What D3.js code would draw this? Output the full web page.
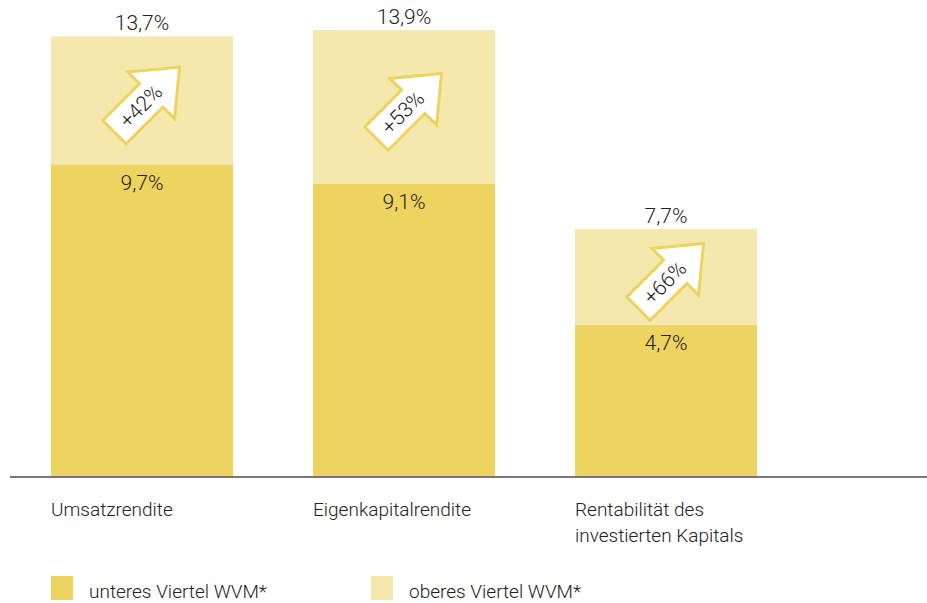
<!DOCTYPE html>
<html>
<head>
<meta charset="utf-8">
<script src="https://cdn.jsdelivr.net/npm/d3@7"></script>
<style>
    body { margin: 0; background: #ffffff; }
    text { font-family: Roboto, "Noto Sans", sans-serif; font-weight: 300; fill: #222222; }
</style>
</head>
<body>
<div id="chart"></div>
<script>
// data
const categories = [["Umsatzrendite"], ["Eigenkapitalrendite"], ["Rentabilität des", "investierten Kapitals"]];
const lowerQuartile = [9.7, 9.1, 4.7];
const upperQuartile = [13.7, 13.9, 7.7];
const increaseLabels = ["+42%", "+53%", "+66%"];
const seriesNames = ["unteres Viertel WVM*", "oberes Viertel WVM*"];

// set the dimensions of the graph
const width = 927,
    height = 603,
    baseline = 476;

const colorLower = "#edd35f",
    colorUpper = "#f5e8ad";

const svg = d3.select("#chart")
    .append("svg")
    .attr("width", width)
    .attr("height", height);

const fmt = v => d3.format(".1f")(v).replace(".", ",") + "%";

// scales
const x = d3.scaleBand()
    .domain(d3.range(categories.length))
    .range([51, 757])
    .paddingInner(80 / 262)
    .paddingOuter(0);

const y = d3.scaleLinear()
    .domain([0, d3.max(upperQuartile)])
    .range([baseline, 30]);

// upper quartile bars (behind)
svg.selectAll("rect.upper")
    .data(upperQuartile)
    .join("rect")
    .attr("class", "upper")
    .attr("x", (d, i) => x(i))
    .attr("y", d => y(d))
    .attr("width", x.bandwidth())
    .attr("height", d => baseline - y(d))
    .attr("fill", colorUpper);

// lower quartile bars (in front)
svg.selectAll("rect.lower")
    .data(lowerQuartile)
    .join("rect")
    .attr("class", "lower")
    .attr("x", (d, i) => x(i))
    .attr("y", d => y(d))
    .attr("width", x.bandwidth())
    .attr("height", d => baseline - y(d))
    .attr("fill", colorLower);

// value labels
svg.selectAll("text.upperLabel")
    .data(upperQuartile)
    .join("text")
    .attr("x", (d, i) => x(i) + x.bandwidth() / 2)
    .attr("y", d => y(d) - 6)
    .attr("text-anchor", "middle")
    .style("font-size", "21px")
    .text(fmt);

svg.selectAll("text.lowerLabel")
    .data(lowerQuartile)
    .join("text")
    .attr("x", (d, i) => x(i) + x.bandwidth() / 2)
    .attr("y", d => y(d) + 25)
    .attr("text-anchor", "middle")
    .style("font-size", "21px")
    .text(fmt);

// arrows between the two bar tops
const arrowShape = d3.line()([[-46, -16.5], [6, -16.5], [6, -33], [46, 0], [6, 33], [6, 16.5], [-46, 16.5]]) + "Z";

const arrows = svg.selectAll("g.arrow")
    .data(increaseLabels)
    .join("g")
    .attr("transform", (d, i) => {
        const cx = x(i) + x.bandwidth() / 2 + 5;
        const cy = (y(upperQuartile[i]) + y(lowerQuartile[i])) / 2 - 1;
        return `translate(${cx}, ${cy}) rotate(-45)`;
    });

arrows.append("path")
    .attr("d", arrowShape)
    .attr("fill", "#ffffff")
    .attr("stroke", colorLower)
    .attr("stroke-width", 3)
    .attr("stroke-linejoin", "miter");

arrows.append("text")
    .attr("x", -9)
    .attr("y", 0)
    .attr("dy", "0.35em")
    .attr("text-anchor", "middle")
    .style("font-size", "21px")
    .text(d => d);

// baseline
svg.append("line")
    .attr("x1", 10)
    .attr("x2", width)
    .attr("y1", baseline + 1)
    .attr("y2", baseline + 1)
    .attr("stroke", "#777777")
    .attr("stroke-width", 2);

// category labels
svg.selectAll("text.category")
    .data(categories)
    .join("text")
    .attr("class", "category")
    .attr("x", (d, i) => x(i))
    .attr("y", 516)
    .style("font-size", "19px")
    .selectAll("tspan")
    .data(d => d)
    .join("tspan")
    .attr("x", function () { return d3.select(this.parentNode).attr("x"); })
    .attr("dy", (d, i) => i === 0 ? 0 : 26)
    .text(d => d);

// legend
const legendX = [51, 371];
const legend = svg.selectAll("g.legend")
    .data(seriesNames)
    .join("g")
    .attr("transform", (d, i) => `translate(${legendX[i]}, 576)`);

legend.append("rect")
    .attr("width", 22)
    .attr("height", 24)
    .attr("fill", (d, i) => i === 0 ? colorLower : colorUpper);

legend.append("text")
    .attr("x", 38)
    .attr("y", 22)
    .style("font-size", "19px")
    .text(d => d);
</script>
</body>
</html>
